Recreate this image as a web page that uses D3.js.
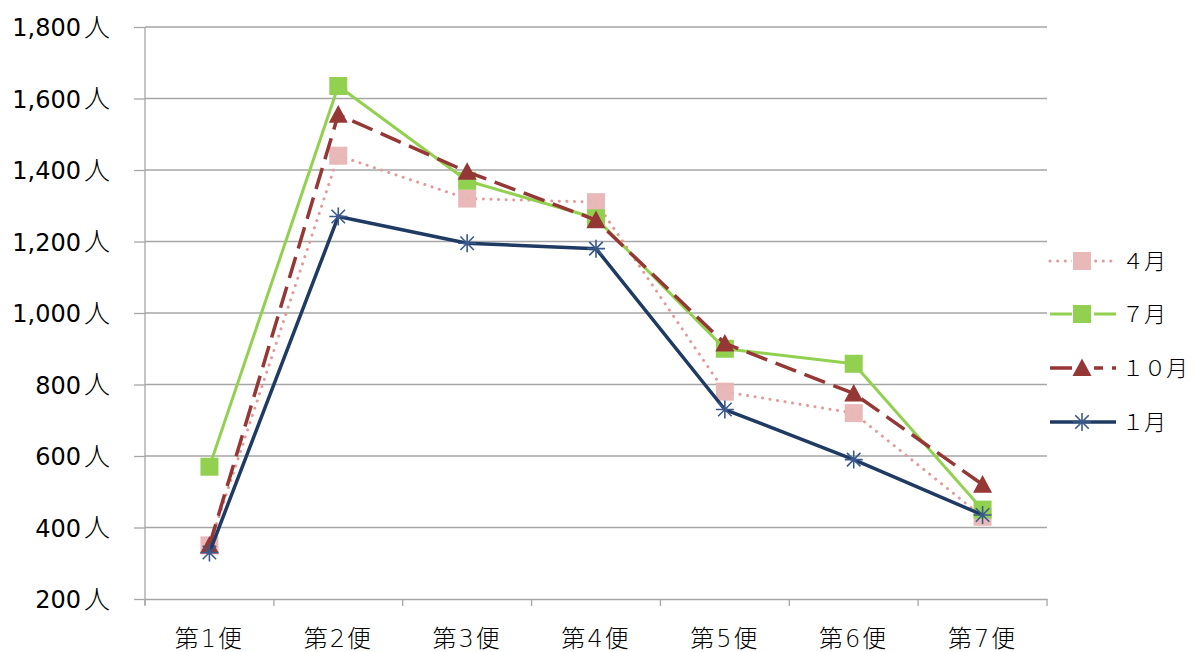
<!DOCTYPE html>
<html>
<head>
<meta charset="utf-8">
<script src="https://cdn.jsdelivr.net/npm/d3@7"></script>
<style>
  body { margin: 0; background: #fff; }
  svg text { font-family: "DejaVu Sans", "Noto Sans CJK JP", sans-serif; fill: #000; }
</style>
</head>
<body>
<svg id="chart" width="1194" height="652"></svg>
<script>
// Passengers per departure (人) by month
const categories = ["第1便", "第2便", "第3便", "第4便", "第5便", "第6便", "第7便"];
const april   = [350, 1440, 1320, 1310, 780, 720, 430];
const july    = [570, 1635, 1370, 1265, 900, 858, 450];
const october = [350, 1555, 1395, 1260, 915, 775, 520];
const january = [330, 1270, 1195, 1180, 730, 590, 435];
const seriesNames = ["４月", "７月", "１０月", "１月"];
const yTicks = [200, 400, 600, 800, 1000, 1200, 1400, 1600, 1800];

const series = [
  { name: seriesNames[0], values: april,   color: "#E39A9A", fill: "#E8B5B5", width: 3,   dash: "0.1 7.5", cap: "round", marker: "square", mSize: 18, mOpacity: 0.95 },
  { name: seriesNames[1], values: july,    color: "#92D050", fill: "#92D050", width: 3,   dash: null,      cap: "butt",  marker: "square", mSize: 18, mOpacity: 1 },
  { name: seriesNames[2], values: october, color: "#953735", fill: "#953735", width: 3.5, dash: "22 9",    cap: "butt",  marker: "triangle", mSize: 19, mOpacity: 1 },
  { name: seriesNames[3], values: january, color: "#1F3B63", fill: "none",    width: 3.5, dash: null,      cap: "butt",  marker: "star",   mSize: 18, mOpacity: 1 }
];

const svg = d3.select("#chart");
const plotLeft = 145, plotRight = 1047, plotTop = 27, plotBottom = 599;
const cjk = "'Noto Sans CJK JP', sans-serif";

const x = d3.scaleBand().domain(categories).range([plotLeft, plotRight]);
const y = d3.scaleLinear().domain([200, 1800]).range([plotBottom, plotTop]);

// horizontal gridlines
svg.append("g")
  .selectAll("line")
  .data(yTicks.slice(1))
  .join("line")
  .attr("x1", plotLeft).attr("x2", plotRight)
  .attr("y1", d => y(d)).attr("y2", d => y(d))
  .attr("stroke", "#A6A6A6").attr("stroke-width", 1.3);

// y axis
const yAxis = svg.append("g")
  .attr("transform", `translate(${plotLeft},0)`)
  .call(d3.axisLeft(y).tickValues(yTicks).tickSize(11).tickPadding(25)
    .tickFormat(d => d3.format(",")(d)));
yAxis.select(".domain").attr("stroke", "#A6A6A6").attr("stroke-width", 1.3)
  .attr("d", `M0,${plotTop}V${plotBottom + 6}`);
yAxis.selectAll(".tick line").attr("stroke", "#A6A6A6").attr("stroke-width", 1.3);
yAxis.selectAll(".tick text").remove();
yAxis.selectAll(".tick").append("text")
  .attr("x", -64).attr("dy", "0.36em")
  .attr("text-anchor", "end")
  .style("font-size", "24px")
  .text(d => d3.format(",")(d));
yAxis.selectAll(".tick").append("text")
  .attr("x", -61).attr("dy", "0.36em")
  .attr("text-anchor", "start")
  .style("font-size", "26px")
  .style("font-family", cjk)
  .style("font-weight", "300")
  .text("人");

// x axis
const xAxis = svg.append("g")
  .attr("transform", `translate(0,${plotBottom})`)
  .call(d3.axisBottom(x).tickSize(0).tickPadding(31));
xAxis.select(".domain").attr("stroke", "#A6A6A6").attr("stroke-width", 1.3);
xAxis.selectAll(".tick text")
  .style("font-size", "24px")
  .style("font-weight", "300")
  .style("letter-spacing", "2px");
// category boundary ticks
svg.append("g")
  .selectAll("line")
  .data(categories.map(c => x(c)).concat([plotRight]))
  .join("line")
  .attr("x1", d => d).attr("x2", d => d)
  .attr("y1", plotBottom).attr("y2", plotBottom + 7)
  .attr("stroke", "#A6A6A6").attr("stroke-width", 1.3);

const cx = c => x(c) + x.bandwidth() / 2;
const line = d3.line().x(d => cx(d.c)).y(d => y(d.v));

function drawMarker(g, s, px, py) {
  const h = s.mSize / 2;
  if (s.marker === "square") {
    g.append("rect").attr("x", px - h).attr("y", py - h)
      .attr("width", s.mSize).attr("height", s.mSize)
      .attr("fill", s.fill).attr("opacity", s.mOpacity);
  } else if (s.marker === "triangle") {
    g.append("path")
      .attr("d", `M${px},${py - h}L${px + h},${py + h * 0.85}L${px - h},${py + h * 0.85}Z`)
      .attr("fill", s.fill);
  } else {
    const r = h;
    const p = [
      `M${px - r},${py}H${px + r}`,
      `M${px},${py - r}V${py + r}`,
      `M${px - r * 0.75},${py - r * 0.75}L${px + r * 0.75},${py + r * 0.75}`,
      `M${px - r * 0.75},${py + r * 0.75}L${px + r * 0.75},${py - r * 0.75}`
    ].join("");
    g.append("path").attr("d", p).attr("stroke", "#3A5A8C").attr("stroke-width", 1.6).attr("fill", "none");
  }
}

series.forEach(s => {
  const g = svg.append("g");
  const pts = categories.map((c, i) => ({ c, v: s.values[i] }));
  g.append("path").datum(pts)
    .attr("d", line)
    .attr("fill", "none")
    .attr("stroke", s.color)
    .attr("stroke-width", s.width)
    .attr("stroke-linecap", s.cap)
    .attr("stroke-linejoin", "round")
    .attr("stroke-dasharray", s.dash);
  pts.forEach(p => drawMarker(g, s, cx(p.c), y(p.v)));
});

// legend
const legend = svg.append("g");
const legY = [261, 314, 368, 422];
series.forEach((s, i) => {
  const g = legend.append("g");
  const ly = legY[i];
  g.append("line")
    .attr("x1", 1050).attr("x2", 1116)
    .attr("y1", ly).attr("y2", ly)
    .attr("stroke", s.color).attr("stroke-width", s.width)
    .attr("stroke-linecap", s.cap)
    .attr("stroke-dasharray", s.dash);
  if (s.marker !== "star") {
    g.append("rect").attr("x", 1072).attr("y", ly - 11).attr("width", 22).attr("height", 22).attr("fill", "#fff");
  }
  drawMarker(g, s, 1082, ly);
  g.append("text")
    .attr("x", 1122).attr("y", ly).attr("dy", "0.36em")
    .style("font-size", "22px")
    .style("font-family", cjk)
    .style("font-weight", "300")
    .text(s.name);
});
</script>
</body>
</html>
